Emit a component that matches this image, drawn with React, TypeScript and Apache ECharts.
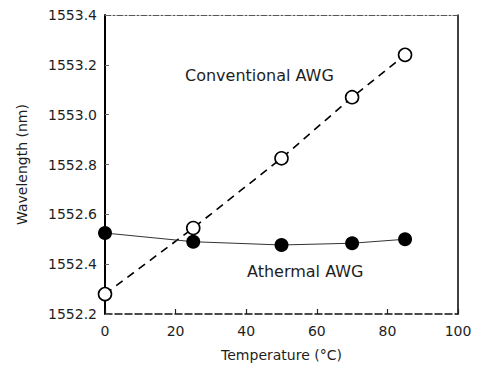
import React, { useEffect, useRef } from "react";
import * as echarts from "echarts";

const temperatures = [0, 25, 50, 70, 85];
const conventionalAWG = [1552.28, 1552.545, 1552.825, 1553.07, 1553.24];
const athermalAWG = [1552.525, 1552.49, 1552.477, 1552.484, 1552.5];
const xTicks = { min: 0, max: 100, interval: 20 };
const yTicks = { min: 1552.2, max: 1553.4, interval: 0.2 };
const labels = { conventional: "Conventional AWG", athermal: "Athermal AWG" };
const axisNames = { x: "Temperature (°C)", y: "Wavelength (nm)" };

const FONT = "DejaVu Sans";
const TXT = "#1e1e1e";

export default function App() {
  const ref = useRef<HTMLDivElement>(null);
  useEffect(() => {
    if (!ref.current) return;
    const chart = echarts.init(ref.current, undefined, { renderer: "svg" });
    const pair = (ys: number[]) => temperatures.map((t, i) => [t, ys[i]]);
    chart.setOption({
      animation: false,
      backgroundColor: "#ffffff",
      grid: { left: 105, right: 23, top: 15, bottom: 53 },
      xAxis: [
        {
          type: "value",
          position: "bottom",
          min: xTicks.min,
          max: xTicks.max,
          interval: xTicks.interval,
          name: axisNames.x,
          nameLocation: "middle",
          nameGap: 34,
          nameTextStyle: { fontFamily: FONT, fontSize: 14, color: TXT },
          axisLine: { onZero: false, lineStyle: { color: "#111", width: 1.5, type: [7, 3] } },
          axisTick: { show: true, inside: true, length: 5, lineStyle: { color: "#222", width: 1.2 } },
          axisLabel: { margin: 10, fontFamily: FONT, fontSize: 14, color: TXT },
          splitLine: { show: false },
        },
        {
          type: "value",
          position: "top",
          min: xTicks.min,
          max: xTicks.max,
          axisLine: { onZero: false, lineStyle: { color: "#555", width: 1, type: [6, 2, 2, 2] } },
          axisTick: { show: false },
          axisLabel: { show: false },
          splitLine: { show: false },
        },
      ],
      yAxis: [
        {
          type: "value",
          position: "left",
          min: yTicks.min,
          max: yTicks.max,
          interval: yTicks.interval,
          name: axisNames.y,
          nameLocation: "middle",
          nameGap: 76,
          nameRotate: 90,
          nameTextStyle: { fontFamily: FONT, fontSize: 14, color: TXT },
          axisLine: { onZero: false, lineStyle: { color: "#000", width: 2 } },
          axisTick: { show: true, inside: true, length: 4, lineStyle: { color: "#666", width: 1 } },
          axisLabel: {
            margin: 8,
            fontFamily: FONT,
            fontSize: 14,
            color: TXT,
            formatter: (v: number) => v.toFixed(1),
          },
          splitLine: { show: false },
        },
        {
          type: "value",
          position: "right",
          min: yTicks.min,
          max: yTicks.max,
          axisLine: { onZero: false, lineStyle: { color: "#000", width: 1.5 } },
          axisTick: { show: false },
          axisLabel: { show: false },
          splitLine: { show: false },
        },
      ],
      series: [
        {
          type: "line",
          name: labels.conventional,
          data: pair(conventionalAWG),
          symbol: "circle",
          symbolSize: 13,
          lineStyle: { color: "#000", width: 1.6, type: [8, 6] },
          itemStyle: { color: "#ffffff", borderColor: "#000", borderWidth: 1.6 },
          z: 2,
        },
        {
          type: "line",
          name: labels.athermal,
          data: pair(athermalAWG),
          symbol: "circle",
          symbolSize: 14,
          lineStyle: { color: "#333", width: 1 },
          itemStyle: { color: "#000", borderColor: "#000", borderWidth: 0 },
          z: 3,
        },
      ],
      graphic: [
        {
          type: "text",
          left: 185,
          top: 67,
          style: { text: labels.conventional, fontFamily: FONT, fontSize: 16, fill: TXT },
        },
        {
          type: "text",
          left: 247,
          top: 263,
          style: { text: labels.athermal, fontFamily: FONT, fontSize: 16, fill: TXT },
        },
      ],
    });
    return () => chart.dispose();
  }, []);
  return (
    <div
      ref={ref}
      style={{ position: "fixed", left: 0, top: 0, width: 481, height: 367 }}
    />
  );
}
